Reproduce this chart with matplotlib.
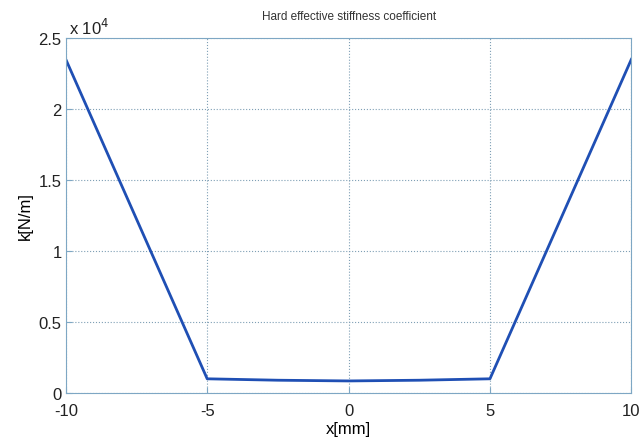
import matplotlib
matplotlib.use("Agg")
import matplotlib.pyplot as plt

plt.rcParams["font.family"] = ["Liberation Sans", "DejaVu Sans"]
plt.rcParams["axes.unicode_minus"] = False

# data
x_mm = [-10, -5, -2.5, 0, 2.5, 5, 10]
k_nm = [23500, 1000, 900, 850, 900, 1000, 23500]

fig = plt.figure(figsize=(6.39, 4.39), dpi=100)
ax = fig.add_axes([0.103, 0.1025, 0.885, 0.8085])

ax.plot(x_mm, k_nm, color="#1f4fb4", linewidth=2)

ax.set_xlim(-10, 10)
ax.set_ylim(0, 25000)
ax.set_xticks([-10, -5, 0, 5, 10])
ax.set_yticks([0, 5000, 10000, 15000, 20000, 25000])
ax.set_yticklabels(["0", "0.5", "1", "1.5", "2", "2.5"])

ax.grid(True, linestyle=":", color="#7f9fb5", linewidth=0.8)
for s in ax.spines.values():
    s.set_color("#7ea7c4")
ax.tick_params(labelsize=12, direction="in", colors="#7ea7c4", labelcolor="#222222", length=4, pad=3)
ax.tick_params(axis="x", pad=7)

ax.text(0.005, 1.003, r"x 10$^4$", transform=ax.transAxes, fontsize=12, color="#222222", va="bottom")

ax.set_xlabel("x[mm]", fontsize=12, labelpad=2)
ax.set_ylabel("k[N/m]", fontsize=12, labelpad=4)
ax.set_title("Hard effective stiffness coefficient", fontsize=8.5, color="#333333", pad=14)

fig.savefig("out.png", dpi=100)
